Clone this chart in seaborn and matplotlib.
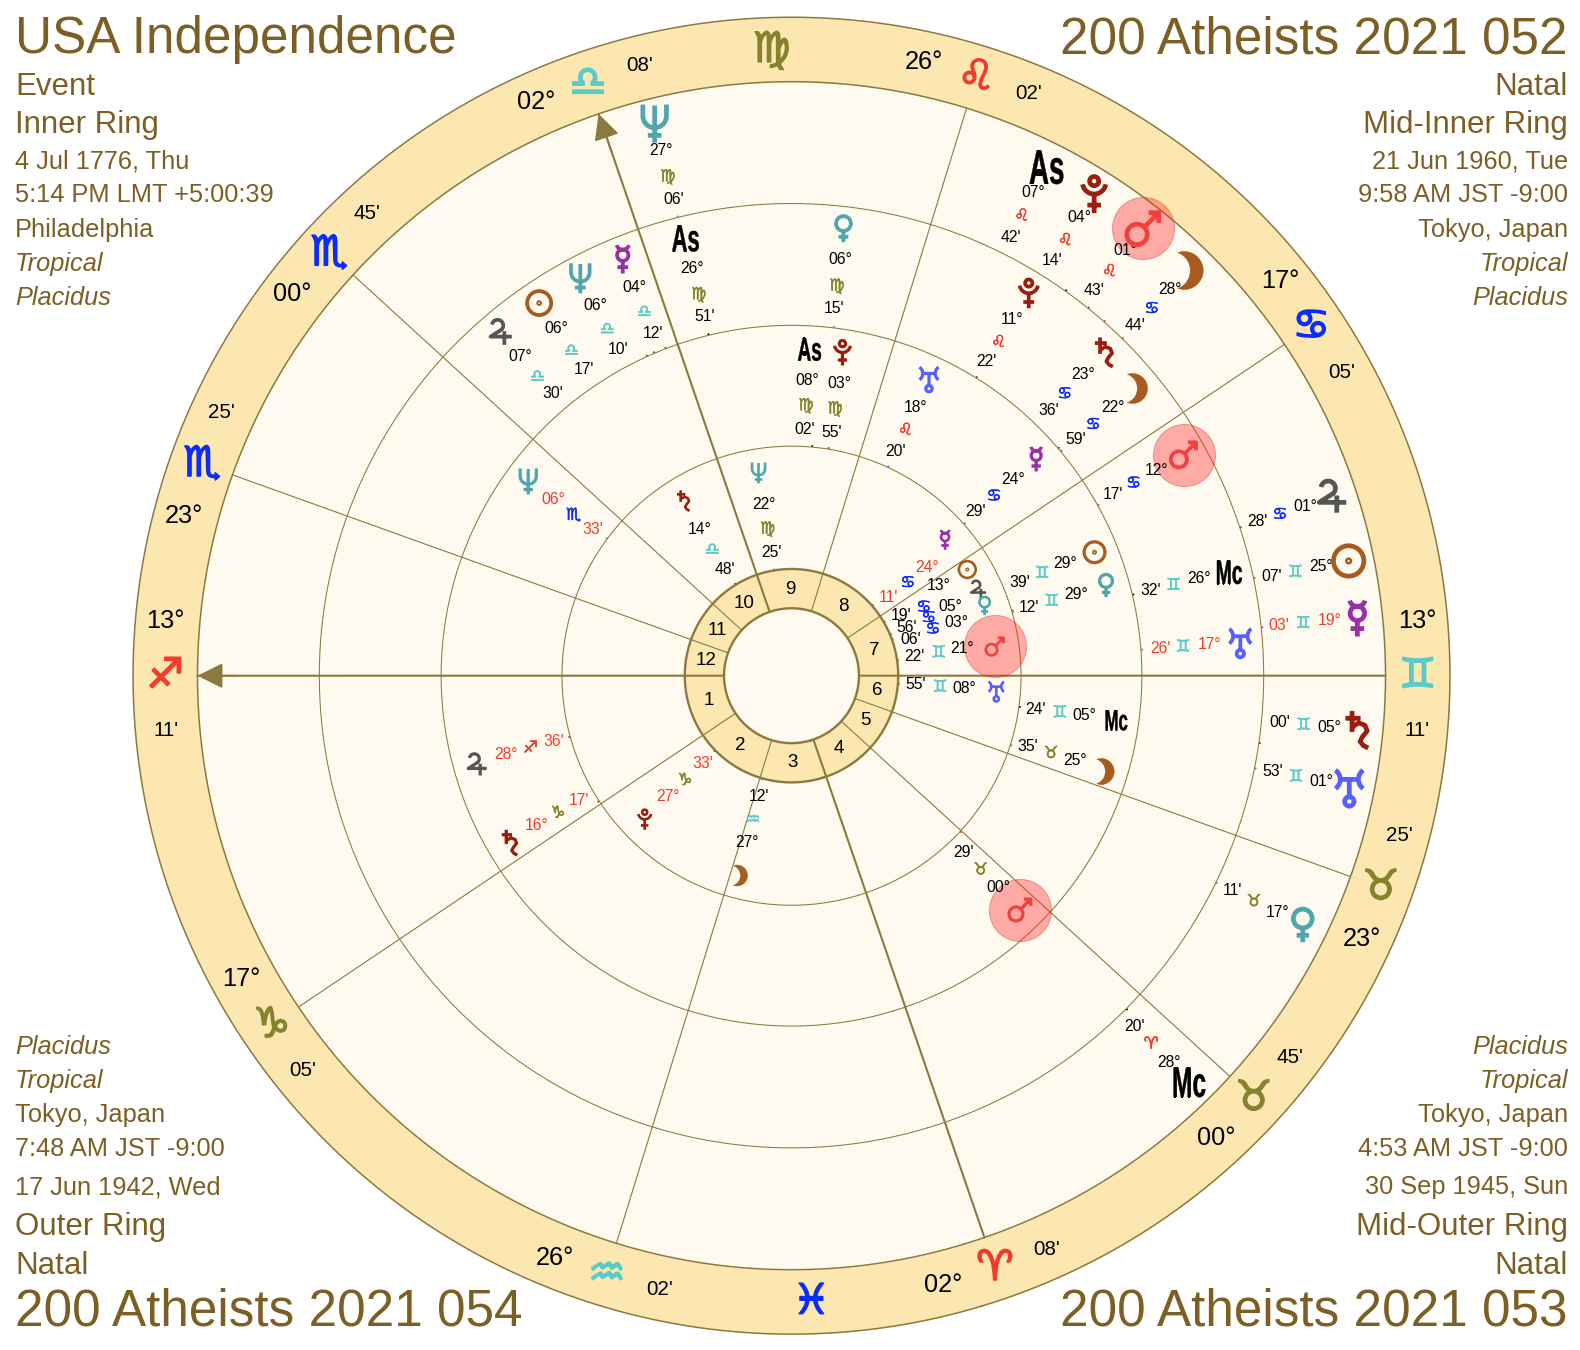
import numpy as np
import pandas as pd
import matplotlib
matplotlib.use("Agg")
import matplotlib.pyplot as plt
import matplotlib.patheffects as pe
from matplotlib.font_manager import FontProperties
from matplotlib.path import Path
from matplotlib.textpath import TextPath
from matplotlib.transforms import Affine2D
import seaborn as sns

# chart angles
ASC_LON = 253.18

# house cusps, 1 to 12
cusp_sign = ["Sag", "Cap", "Aqu", "Ari", "Tau", "Tau", "Gem", "Can", "Leo", "Lib", "Sco", "Sco"]
cusp_deg = [13, 17, 26, 2, 0, 23, 13, 17, 26, 2, 0, 23]
cusp_min = [11, 5, 2, 8, 45, 25, 11, 5, 2, 8, 45, 25]
house_numbers = ["1", "2", "3", "4", "5", "6", "7", "8", "9", "10", "11", "12"]
intercepted = ["Vir", "Pis"]

# inner ring: USA Independence
r1_name = ["Saturn", "Neptune", "Mars", "Uranus", "Mercury", "Moon", "Pluto", "Sun", "Jupiter", "Venus"]
r1_sign = ["Lib", "Vir", "Gem", "Gem", "Can", "Aqu", "Cap", "Can", "Can", "Can"]
r1_deg = [14, 22, 21, 8, 24, 27, 27, 13, 5, 3]
r1_min = [48, 25, 22, 55, 11, 12, 33, 19, 56, 6]
r1_retro = ["Mercury", "Pluto"]
r1_shift = [0, 0, 0, 0, 0.6, 1.5, 0, 1, 2, 0]
r1_lab_shift = [0.5, 0, 0.8, 0, -2.3, 1, 0, 0, 0, 0]

# mid-inner ring: 052
r2_name = ["Neptune", "Jupiter", "Saturn", "Pluto", "As", "Uranus", "Mercury", "Sun", "Venus", "Mc", "Moon", "Mars"]
r2_sign = ["Sco", "Sag", "Cap", "Vir", "Vir", "Leo", "Can", "Gem", "Gem", "Gem", "Tau", "Tau"]
r2_deg = [6, 28, 16, 3, 8, 18, 24, 29, 29, 5, 25, 0]
r2_min = [33, 36, 17, 55, 2, 20, 29, 39, 12, 24, 35, 29]
r2_retro = ["Neptune", "Jupiter", "Saturn"]
r2_shift = [0.2, 0.4, -2.4, 0.3, 2.1, 0, 0.3, 5.7, 0, 0, 0.7, -3]
r2_lab_shift = [0.2, 0, -2.7, 0, 2.1, 0, 0.3, 5.8, 0, 0, 1, -3]

# mid-outer ring: 053
r3_name = ["Mars", "Saturn", "Moon", "Pluto", "Venus", "As", "Mercury", "Neptune", "Sun", "Jupiter", "Mc", "Uranus"]
r3_sign = ["Can", "Can", "Can", "Leo", "Vir", "Vir", "Lib", "Lib", "Lib", "Lib", "Gem", "Gem"]
r3_deg = [12, 23, 22, 11, 6, 26, 4, 6, 6, 7, 26, 17]
r3_min = [17, 36, 59, 22, 15, 51, 12, 10, 17, 30, 32, 26]
r3_retro = ["Uranus"]
r3_shift = [0.3, 5.5, 0, 0, 0.3, 0, 1, 5, 11, 16, 0, 0]
r3_lab_shift = [0.3, 5.5, 0, 0, 0.3, 0, 1, 5, 11, 16, 0, 0]

# outer ring: 054
r4_name = ["Neptune", "As", "Pluto", "Mars", "Moon", "Jupiter", "Sun", "Mercury", "Saturn", "Uranus", "Venus", "Mc"]
r4_sign = ["Vir", "Leo", "Leo", "Leo", "Can", "Can", "Gem", "Gem", "Gem", "Gem", "Tau", "Ari"]
r4_deg = [27, 7, 4, 1, 28, 1, 25, 19, 5, 1, 17, 28]
r4_min = [6, 42, 14, 43, 44, 28, 7, 3, 0, 53, 11, 20]
r4_retro = ["Mercury"]
r4_shift = [0, 8.9, 6.8, 3.3, 0, 0, -0.3, 0, 2.7, 0, 0, -0.8]
r4_lab_shift = [0, 8.9, 6.8, 3.3, 0, 0, -0.3, 0, 2.7, 0, 0, -0.8]

# corner texts
tl_text = ["Event", "Inner Ring", "4 Jul 1776, Thu", "5:14 PM LMT +5:00:39", "Philadelphia", "Tropical", "Placidus"]
tr_text = ["Natal", "Mid-Inner Ring", "21 Jun 1960, Tue", "9:58 AM JST -9:00", "Tokyo, Japan", "Tropical", "Placidus"]
bl_text = ["Placidus", "Tropical", "Tokyo, Japan", "7:48 AM JST -9:00", "17 Jun 1942, Wed", "Outer Ring", "Natal"]
br_text = ["Placidus", "Tropical", "Tokyo, Japan", "4:53 AM JST -9:00", "30 Sep 1945, Sun", "Mid-Outer Ring", "Natal"]

SIGNS = ["Ari", "Tau", "Gem", "Can", "Leo", "Vir", "Lib", "Sco", "Sag", "Cap", "Aqu", "Pis"]
SIGN_GLYPH = dict(zip(SIGNS, "♈♉♊♋♌♍♎♏♐♑♒♓"))
RED, OLIVE, CYAN, BLUE = "#f23b2c", "#85842c", "#5ccbc8", "#0a2cff"
SIGN_COLOR = dict(zip(SIGNS, [RED, OLIVE, CYAN, BLUE] * 3))
PLANET_COLOR = {"Sun": "#a65c1e", "Moon": "#a65c1e", "Mercury": "#9a2fa8", "Venus": "#4fa7ad",
                "Mars": "#f0413d", "Jupiter": "#555555", "Saturn": "#9a1e10", "Uranus": "#5560ff",
                "Neptune": "#4fa7ad", "Pluto": "#98200f", "As": "black", "Mc": "black"}
# drawn size of each symbol relative to the ring's symbol size
PLANET_SCALE = {"Sun": 0.8, "Jupiter": 0.85, "Mars": 0.85, "Venus": 0.9, "As": 0.92, "Mc": 0.92}
# special spreading of the crowded labels in the inner ring (deg, sign, min)
r1_fan = {"Sun": (1.4, -2.7, -1.5), "Jupiter": (0.75, 0.25, 0), "Venus": (-2, -1.6, -3)}

LINE = "#8b7a3e"
BROWN = "#7d5f24"
RIM = "#fce7b1"
CREAM = "#fffaf0"

sns.set_theme(style="white")
plt.rcParams["font.family"] = ["Liberation Sans", "DejaVu Sans"]

W, H = 1580, 1350
CX, CY, RMAX, K = 791.5, 675.7, 662, 1.0068
fig = plt.figure(figsize=(W / 100, H / 100), dpi=100, facecolor="white")
half = RMAX * K
ax = fig.add_axes([(CX - half) / W, (H - CY - half) / H, 2 * half / W, 2 * half / H], projection="polar")
ax.set_theta_offset(np.radians(180 - ASC_LON))
ax.axis("off")


def lon(sign, deg, minute):
    return SIGNS.index(sign) * 30 + deg + minute / 60


def put(lon_deg, r, s, **kw):
    ax.text(np.radians(lon_deg), r, s, ha="center", va="center", clip_on=False, **kw)


def sign_text(lon_deg, r, sign, size, stroke):
    col = SIGN_COLOR[sign]
    put(lon_deg, r, SIGN_GLYPH[sign], fontsize=size, color=col, family="DejaVu Sans",
        path_effects=[pe.withStroke(linewidth=stroke, foreground=col)])


# stroke shapes of the planet symbols
def arc(cx, cy, r, a0, a1, n=24):
    a = np.radians(np.linspace(a0, a1, n))
    return Path(np.column_stack([cx + r * np.cos(a), cy + r * np.sin(a)]))


def seg(*pts):
    return Path(pts)


def text_mark(s):
    tp = TextPath((0, 0), s, size=10, prop=FontProperties(family="Liberation Sans", weight="bold"))
    box = tp.get_extents()
    tr = Affine2D().translate(-(box.x0 + box.x1) / 2, -(box.y0 + box.y1) / 2).scale(0.58, 1)
    return tr.transform_path(tp)


moon_out = arc(-0.31, 0, 0.95, -110, 110).vertices
moon_in = arc(-0.96, 0, 0.95, 70, -70).vertices
MARKS = {
    "Sun": Path.make_compound_path(Path.circle((0, 0), 0.88), Path.circle((0, 0), 0.07)),
    "Moon": Path(np.vstack([moon_out, moon_in, moon_out[:1]])),
    "Mercury": Path.make_compound_path(arc(0, 1.0, 0.42, 195, 345), Path.circle((0, 0.22), 0.38),
                                       seg((0, -0.16), (0, -1)), seg((-0.36, -0.58), (0.36, -0.58))),
    "Venus": Path.make_compound_path(Path.circle((0, 0.38), 0.55), seg((0, -0.17), (0, -1)),
                                     seg((-0.36, -0.6), (0.36, -0.6))),
    "Mars": Path.make_compound_path(Path.circle((-0.32, -0.32), 0.55), seg((0.08, 0.08), (0.85, 0.85)),
                                    seg((0.3, 0.85), (0.85, 0.85), (0.85, 0.3)), seg((0.5, 0.7), (0.7, 0.7), (0.7, 0.5))),
    "Jupiter": Path.make_compound_path(Path(np.vstack([arc(-0.2, 0.52, 0.42, 170, -45).vertices,
                                                       [(-0.72, -0.3), (0.85, -0.3)]])),
                                       seg((0.3, 0.1), (0.3, -0.9))),
    "Saturn": Path.make_compound_path(seg((-0.3, 1), (-0.3, -0.1)), seg((-0.65, 0.62), (0.15, 0.62)),
                                      seg((-0.3, 0.15), (0.05, 0.38), (0.38, 0.25), (0.5, -0.05), (0.25, -0.35),
                                          (0.12, -0.6), (0.3, -0.82), (0.55, -0.95))),
    "Uranus": Path.make_compound_path(arc(-1.05, 0.4, 0.58, 55, -55), arc(1.05, 0.4, 0.58, 125, 235),
                                      seg((-0.47, 0.4), (0.47, 0.4)), seg((0, 0.4), (0, -0.5)),
                                      Path.circle((0, -0.74), 0.24)),
    "Neptune": Path.make_compound_path(Path(np.vstack([[(-0.62, 1)], arc(0, 0.4, 0.62, 180, 360).vertices, [(0.62, 1)]])),
                                       seg((0, 0.95), (0, -1)), seg((-0.36, -0.62), (0.36, -0.62))),
    "Pluto": Path.make_compound_path(Path.circle((0, 0.68), 0.24), arc(0, 0.62, 0.62, 190, 350),
                                     seg((0, 0), (0, -1)), seg((-0.36, -0.58), (0.36, -0.58))),
    "As": text_mark("As"),
    "Mc": text_mark("Mc"),
}

circle = np.linspace(0, 2 * np.pi, 721)
ax.fill_between(circle, 590, 654, color=RIM, lw=0)
ax.fill_between(circle, 0, 590, color=CREAM, lw=0)
ax.fill_between(circle, 67, 106, color=RIM, lw=0)

for radius, width in [(654, 1.1), (590, 1.1), (469, 0.75), (348, 0.75), (228, 0.75), (106, 1.7), (67, 1.7)]:
    sns.lineplot(x=circle, y=np.full(circle.size, radius), sort=False, estimator=None,
                 color=LINE, lw=width, ax=ax, legend=False)

cusp_lon = [lon(s, d, m) for s, d, m in zip(cusp_sign, cusp_deg, cusp_min)]
for i, c in enumerate(cusp_lon):
    thick = i in (0, 3, 6, 9)
    t = np.radians(c)
    sns.lineplot(x=[t, t], y=[67, 590], sort=False, estimator=None, color=LINE,
                 lw=1.5 if thick else 0.8, ax=ax, legend=False)
    next_c = cusp_lon[(i + 1) % 12]
    mid = c + ((next_c - c) % 360) / 2
    put(mid, 86, house_numbers[i], fontsize=13.5, color="black")
    # sign and degree on the rim
    sign_text(c, 622, cusp_sign[i], 30, 1.2)
    screen = (c + 180 - ASC_LON) % 360
    side = 5 if screen < 179 else -5
    put(c + side, 624, f"{cusp_deg[i]:02d}°", fontsize=18.3, color="black")
    put(c - side, 624, f"{cusp_min[i]:02d}'", fontsize=14.8, color="black")

for sign in intercepted:
    sign_text(SIGNS.index(sign) * 30 + 15, 622, sign, 30, 1.2)

# arrows on Asc and MC
for i in (0, 9):
    t = np.radians(cusp_lon[i])
    ax.annotate("", xy=(t, 590), xytext=(t, 550), arrowprops=dict(arrowstyle="-|>", color=LINE, lw=1.2,
                mutation_scale=40, shrinkA=0, shrinkB=0))


def draw_ring(names, signs, degs, mins, retro, shifts, lab_shifts, inner, r_g, r_d, r_s, r_m, size, fan=None):
    fan = fan or {}
    frame = pd.DataFrame({"name": names, "sign": signs, "deg": degs, "min": mins,
                          "shift": shifts, "lab": lab_shifts})
    frame["lon"] = [lon(s, d, m) for s, d, m in zip(signs, degs, mins)]
    # small tick at the true place on the ring edge
    sns.scatterplot(x=np.radians(frame["lon"]), y=np.full(len(frame), inner + 1), hue=frame["name"],
                    palette=PLANET_COLOR, s=2, linewidth=0, legend=False, ax=ax)
    # red halos behind Mars
    mars = frame[frame["name"] == "Mars"]
    sns.scatterplot(x=np.radians(mars["lon"] + mars["shift"]), y=np.full(len(mars), r_g), s=2000, color="#ff2a2a",
                    alpha=0.38, edgecolor="#c0392b", linewidth=0.8, legend=False, ax=ax, zorder=3)
    for row in frame.itertuples():
        col = PLANET_COLOR[row.name]
        theta = np.radians(row.lon + row.shift)
        solid = row.name in ("Moon", "As", "Mc")
        px = size * PLANET_SCALE.get(row.name, 1)
        ax.scatter([theta], [r_g], marker=MARKS[row.name], s=(px * 0.72) ** 2,
                   facecolors=col if solid else "none", edgecolors=col,
                   linewidths=0.3 if solid else size * 0.09, zorder=4)
        d_off, s_off, m_off = fan.get(row.name, (row.lab, row.lab, row.lab))
        txt = RED if row.name in retro else "black"
        put(row.lon + d_off, r_d, f"{row.deg:02d}°", fontsize=11.3, color=txt)
        sign_text(row.lon + s_off, r_s, row.sign, 12, 0.4)
        put(row.lon + m_off, r_m, f"{row.min:02d}'", fontsize=11.3, color=txt)


draw_ring(r1_name, r1_sign, r1_deg, r1_min, r1_retro, r1_shift, r1_lab_shift, 106, 204, 172, 148, 124, 21, r1_fan)
draw_ring(r2_name, r2_sign, r2_deg, r2_min, r2_retro, r2_shift, r2_lab_shift, 228, 325, 294, 269, 245, 26)
draw_ring(r3_name, r3_sign, r3_deg, r3_min, r3_retro, r3_shift, r3_lab_shift, 348, 447, 416, 390, 367, 30)
draw_ring(r4_name, r4_sign, r4_deg, r4_min, r4_retro, r4_shift, r4_lab_shift, 469, 565, 537, 511, 487, 38)

ax.set_rlim(0, RMAX)
ax.set_xlabel("")
ax.set_ylabel("")


def corner(x, y, s, size, ha="left", style="normal"):
    fig.text(x / W, 1 - y / H, s, fontsize=size, color=BROWN, ha=ha, va="baseline", style=style)


top_y = [95, 133, 169, 202, 237, 271, 305]
bot_y = [1054, 1088, 1122, 1156, 1194, 1235, 1274]
top_size = [22.5, 22.5, 18.3, 18.3, 18.3, 18.3, 18.3]
bot_size = [18.3, 18.3, 18.3, 18.3, 18.3, 22.5, 22.5]
top_style = ["normal"] * 5 + ["italic"] * 2
bot_style = ["italic"] * 2 + ["normal"] * 5

corner(15, 53, "USA Independence", 36.9)
corner(1568, 53, "200 Atheists 2021 052", 36.9, ha="right")
corner(15, 1326, "200 Atheists 2021 054", 36.9)
corner(1568, 1326, "200 Atheists 2021 053", 36.9, ha="right")
for i in range(7):
    corner(15, top_y[i], tl_text[i], top_size[i], style=top_style[i])
    corner(1568, top_y[i], tr_text[i], top_size[i], ha="right", style=top_style[i])
    corner(15, bot_y[i], bl_text[i], bot_size[i], style=bot_style[i])
    corner(1568, bot_y[i], br_text[i], bot_size[i], ha="right", style=bot_style[i])

fig.savefig("out.png", dpi=100, facecolor="white")
